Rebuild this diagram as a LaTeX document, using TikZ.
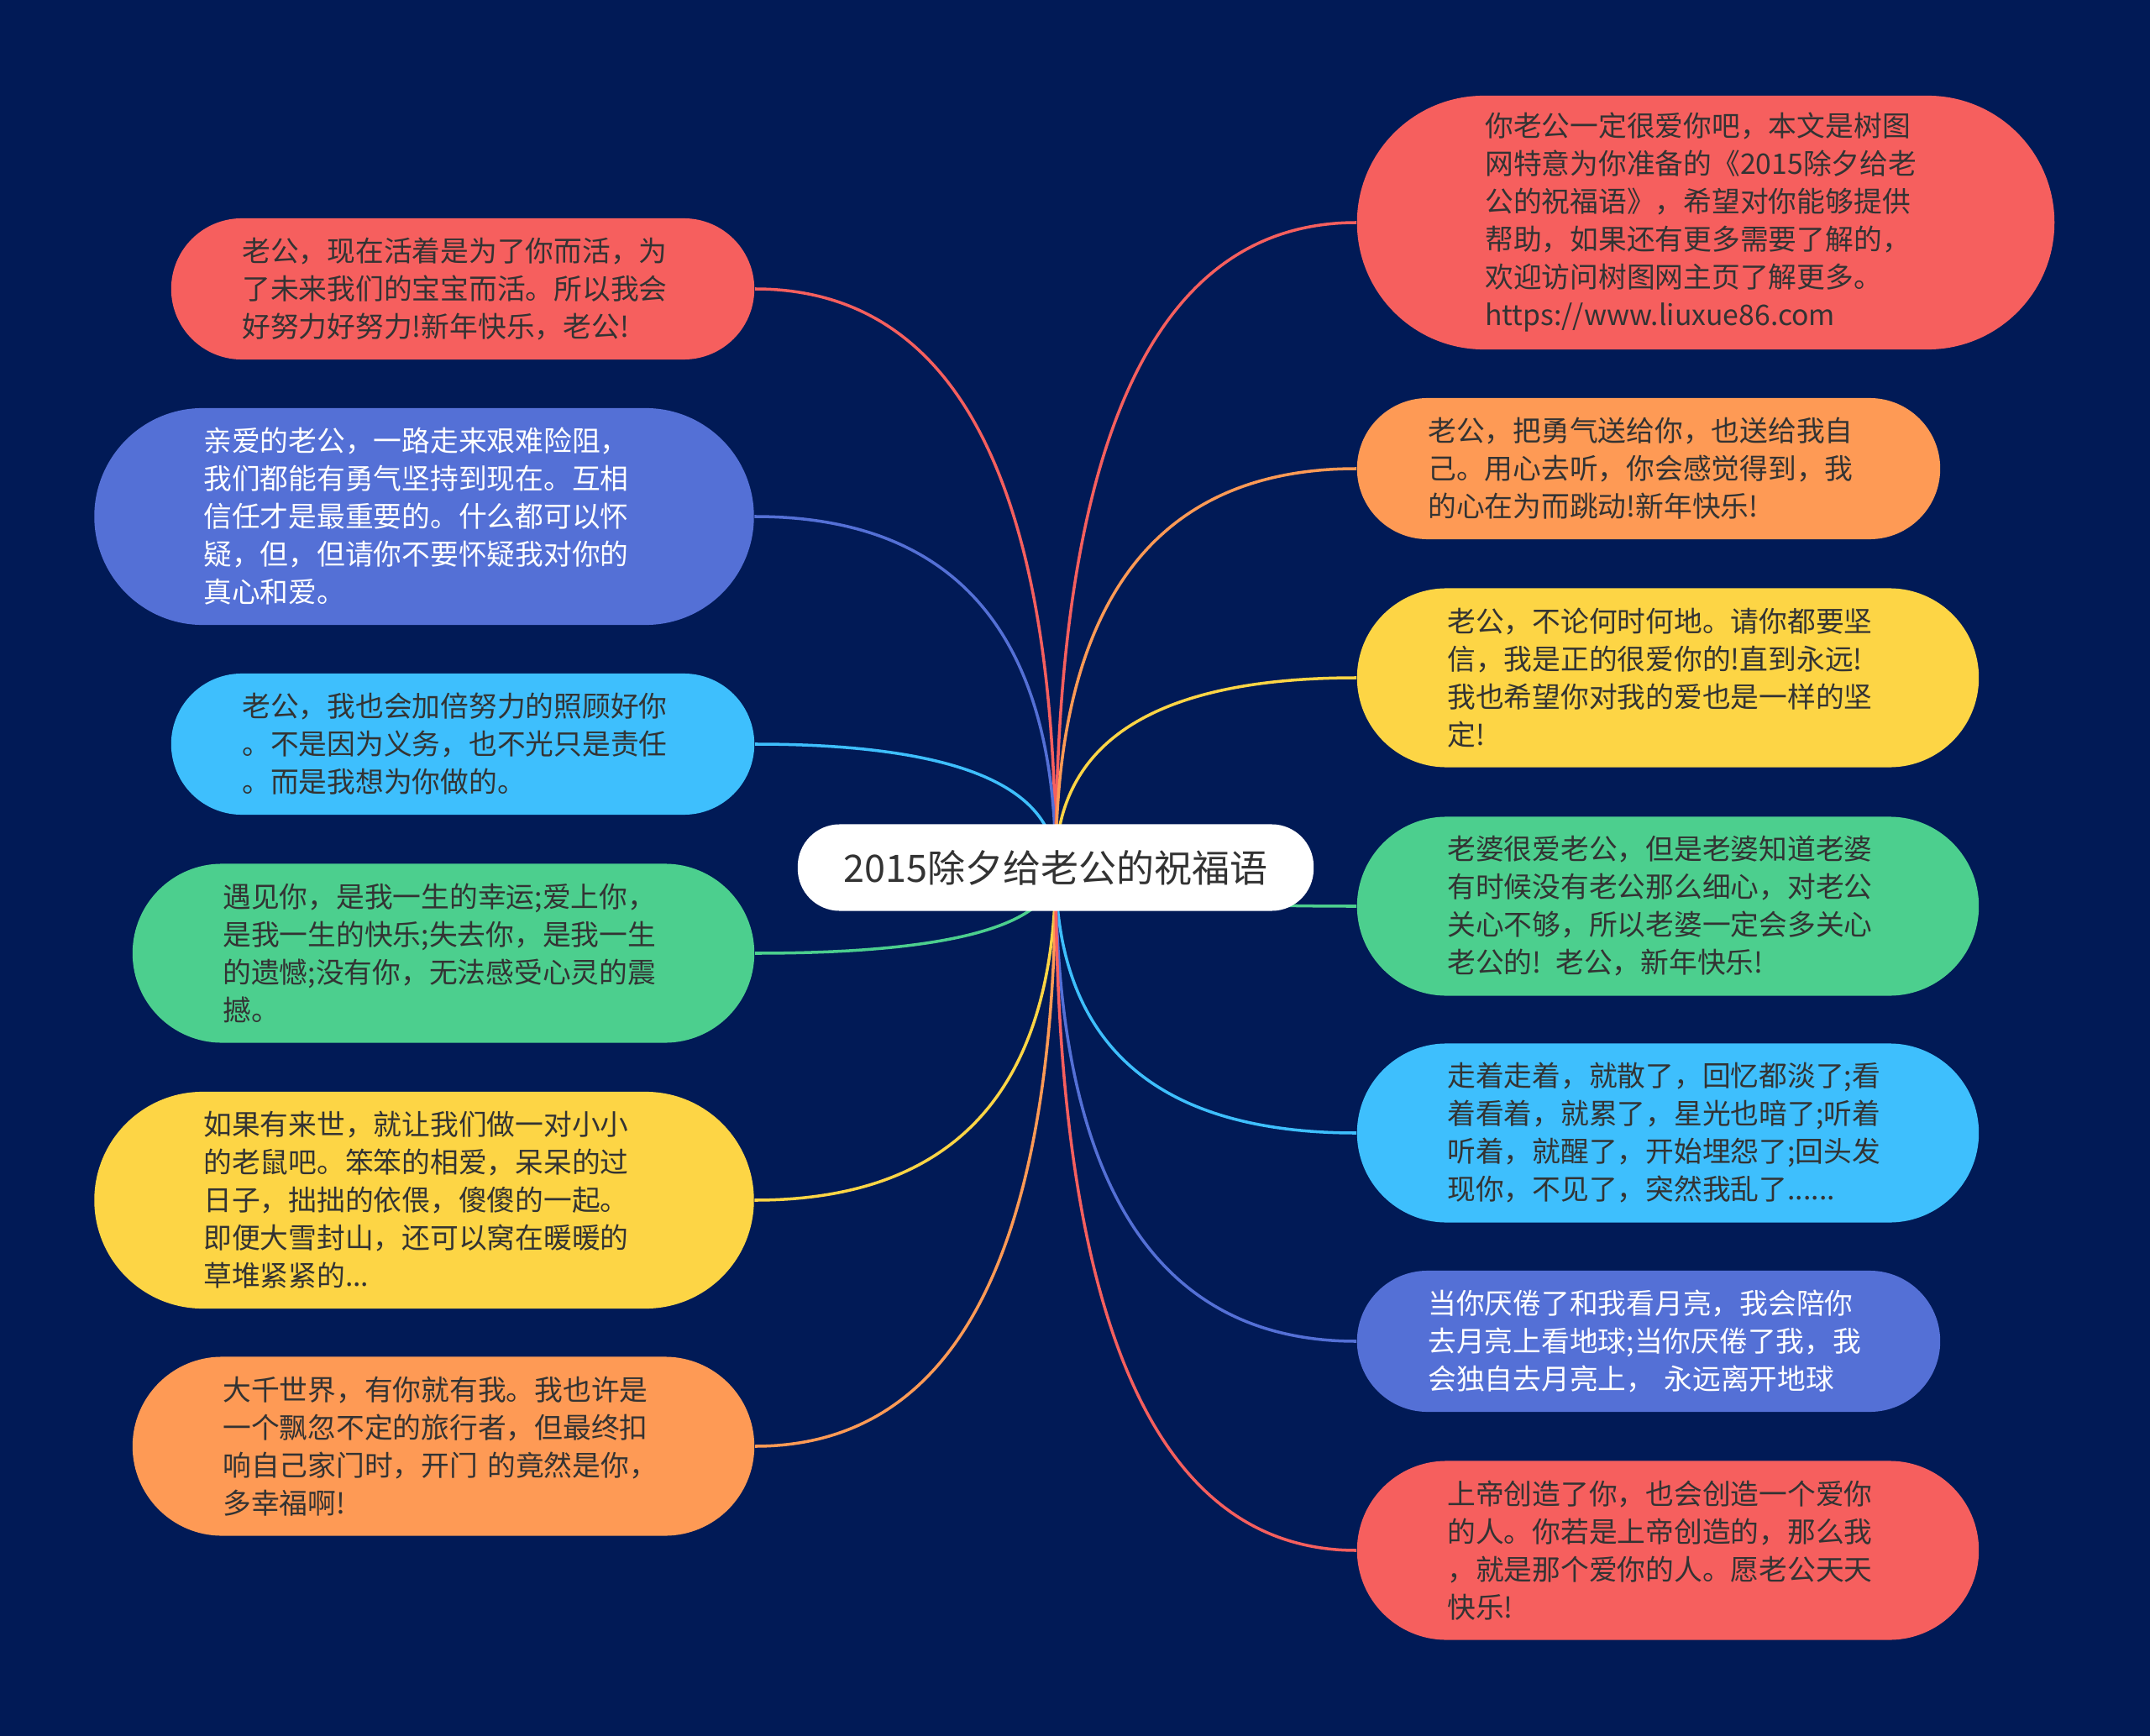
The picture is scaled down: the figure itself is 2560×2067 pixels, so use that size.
\documentclass[tikz,border=0pt]{standalone}
\usepackage{fontspec}
\setmainfont{Noto Sans CJK SC}
\usetikzlibrary{calc}
\definecolor{bg}{HTML}{011A56}
\definecolor{cred}{HTML}{F65F5E}
\definecolor{cblue}{HTML}{5470D6}
\definecolor{ccyan}{HTML}{3EBFFD}
\definecolor{cgreen}{HTML}{4CCF8E}
\definecolor{cyellow}{HTML}{FDD545}
\definecolor{corange}{HTML}{FE9A55}
\definecolor{txt}{HTML}{333333}
\pgfdeclarelayer{bglayer}
\pgfdeclarelayer{edges}
\pgfsetlayers{bglayer,edges,main}
\newcommand\linkto[3]{%
  \draw[link,#3] (c.center) .. controls ($(c.center)!2/3!(c.center |- #1.#2)$) and ($(#1.#2)!2/3!(c.center |- #1.#2)$) .. (#1.#2);}
\begin{document}
\begin{tikzpicture}[x=0.01cm,y=-0.01cm,
  leaf/.style={rectangle, inner sep=0pt, text width=5.25cm, align=left,
    font=\fontsize{9.6pt}{12.8pt}\selectfont, text=txt},
  lthree/.style={minimum width=6.94cm, minimum height=1.68cm, rounded corners=0.84cm},
  lfour/.style={minimum width=7.40cm, minimum height=2.13cm, rounded corners=1.065cm},
  lfive/.style={minimum width=7.85cm, minimum height=2.58cm, rounded corners=1.29cm},
  lsix/.style={minimum width=8.30cm, minimum height=3.02cm, rounded corners=1.51cm},
  ctr/.style={rectangle, fill=white, minimum width=6.14cm, minimum height=1.03cm,
    rounded corners=0.5cm, inner sep=0pt, font=\fontsize{12.8pt}{15pt}\selectfont, text=txt},
  link/.style={line width=1pt}]
\useasboundingbox (0,0) rectangle (2560,2067);
\begin{pgfonlayer}{bglayer}
\fill[bg] (0,0) rectangle (2560,2067);
\end{pgfonlayer}

\node[ctr] (c) at (1257,1033) {2015除夕给老公的祝福语};

% left side
\node[leaf,lthree,fill=cred] (l1) at (551,344) {老公，现在活着是为了你而活，为\\了未来我们的宝宝而活。所以我会\\好努力好努力!新年快乐，老公!};
\node[leaf,lfive,fill=cblue,text=white] (l2) at (505,615) {亲爱的老公，一路走来艰难险阻，\\我们都能有勇气坚持到现在。互相\\信任才是最重要的。什么都可以怀\\疑，但，但请你不要怀疑我对你的\\真心和爱。};
\node[leaf,lthree,fill=ccyan] (l3) at (551,886) {老公，我也会加倍努力的照顾好你\\。不是因为义务，也不光只是责任\\。而是我想为你做的。};
\node[leaf,lfour,fill=cgreen] (l4) at (528,1135) {遇见你，是我一生的幸运;爱上你，\\是我一生的快乐;失去你，是我一生\\的遗憾;没有你，无法感受心灵的震\\撼。};
\node[leaf,lfive,fill=cyellow] (l5) at (505,1429) {如果有来世，就让我们做一对小小\\的老鼠吧。笨笨的相爱，呆呆的过\\日子，拙拙的依偎，傻傻的一起。\\即便大雪封山，还可以窝在暖暖的\\草堆紧紧的...};
\node[leaf,lfour,fill=corange] (l6) at (528,1722) {大千世界，有你就有我。我也许是\\一个飘忽不定的旅行者，但最终扣\\响自己家门时，开门 的竟然是你，\\多幸福啊!};

% right side
\node[leaf,lsix,fill=cred] (r1) at (2031,265) {你老公一定很爱你吧，本文是树图\\网特意为你准备的《2015除夕给老\\公的祝福语》，希望对你能够提供\\帮助，如果还有更多需要了解的，\\欢迎访问树图网主页了解更多。\\https://www.liuxue86.com};
\node[leaf,lthree,fill=corange] (r2) at (1963,558) {老公，把勇气送给你，也送给我自\\己。用心去听，你会感觉得到，我\\的心在为而跳动!新年快乐!};
\node[leaf,lfour,fill=cyellow] (r3) at (1986,807) {老公，不论何时何地。请你都要坚\\信，我是正的很爱你的!直到永远!\\我也希望你对我的爱也是一样的坚\\定!};
\node[leaf,lfour,fill=cgreen] (r4) at (1986,1079) {老婆很爱老公，但是老婆知道老婆\\有时候没有老公那么细心，对老公\\关心不够，所以老婆一定会多关心\\老公的! 老公，新年快乐!};
\node[leaf,lfour,fill=ccyan] (r5) at (1986,1349) {走着走着，就散了，回忆都淡了;看\\着看着，就累了，星光也暗了;听着\\听着，就醒了，开始埋怨了;回头发\\现你，不见了，突然我乱了......};
\node[leaf,lthree,fill=cblue,text=white] (r6) at (1963,1597) {当你厌倦了和我看月亮，我会陪你\\去月亮上看地球;当你厌倦了我，我\\会独自去月亮上， 永远离开地球};
\node[leaf,lfour,fill=cred] (r7) at (1986,1846) {上帝创造了你，也会创造一个爱你\\的人。你若是上帝创造的，那么我\\，就是那个爱你的人。愿老公天天\\快乐!};

\begin{pgfonlayer}{edges}
\linkto{l1}{east}{cred}
\linkto{l2}{east}{cblue}
\linkto{l3}{east}{ccyan}
\linkto{l4}{east}{cgreen}
\linkto{l5}{east}{cyellow}
\linkto{l6}{east}{corange}
\linkto{r1}{west}{cred}
\linkto{r2}{west}{corange}
\linkto{r3}{west}{cyellow}
\linkto{r4}{west}{cgreen}
\linkto{r5}{west}{ccyan}
\linkto{r6}{west}{cblue}
\linkto{r7}{west}{cred}
\end{pgfonlayer}
\end{tikzpicture}
\end{document}
